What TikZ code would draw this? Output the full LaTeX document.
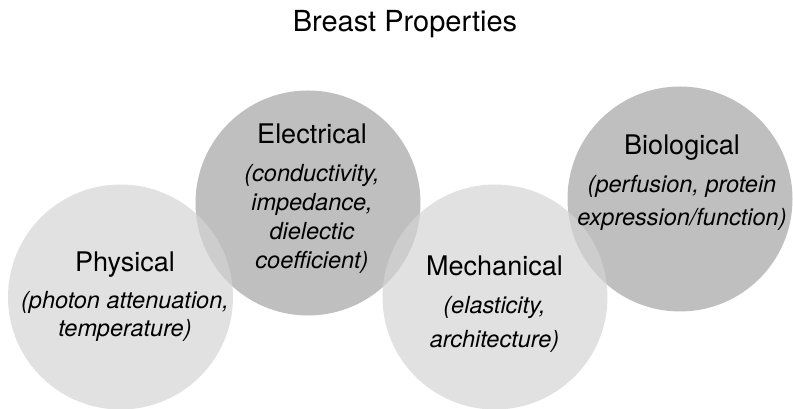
\documentclass[tikz,border=0pt]{standalone}
\usepackage{fontspec}
\setmainfont{TeX Gyre Heros}
\usetikzlibrary{positioning}
\definecolor{propgray}{gray}{0.75}
\definecolor{proplight}{gray}{0.83}

\begin{document}
\begin{tikzpicture}[x=1pt,y=1pt,
    prop/.style={circle, minimum size=225pt, inner sep=0pt},
    darkprop/.style={prop, fill=propgray},
    lightprop/.style={prop, fill=proplight, fill opacity=0.7},
    head/.style={font=\fontsize{27}{32}\selectfont, inner sep=0pt, anchor=base},
    desc/.style={font=\fontsize{23.5}{#1}\selectfont\itshape, align=center, inner sep=0pt}]
    \useasboundingbox (0,0) rectangle (793,409);
    % title
    \node[head, font=\fontsize{29}{34}\selectfont] (title) at (405,377) {Breast Properties};
    % the four circles, dark ones below
    \node[darkprop] (elec) at (308,206) {};
    \node[darkprop] (bio) at (680,210) {};
    \node[lightprop] (phys) at (120.5,112) {};
    \node[lightprop] (mech) at (495,112) {};
    % labels
    \node[head] (physh) at (125,137) {Physical};
    \node[desc=28, below=19pt of physh.base] (physd) {(photon attenuation,\\temperature)};
    \node[head] (elech) at (312,265) {Electrical};
    \node[desc=29, below=20pt of elech.base] (elecd) {(conductivity,\\impedance,\\dielectic\\coefficient)};
    \node[head] (mechh) at (494.5,133) {Mechanical};
    \node[desc=34, below=20pt of mechh.base] (mechd) {(elasticity,\\architecture)};
    \node[head] (bioh) at (682,254) {Biological};
    \node[desc=33, below=20pt of bioh.base] (biod) {(perfusion, protein\\expression/function)};
\end{tikzpicture}
\end{document}
